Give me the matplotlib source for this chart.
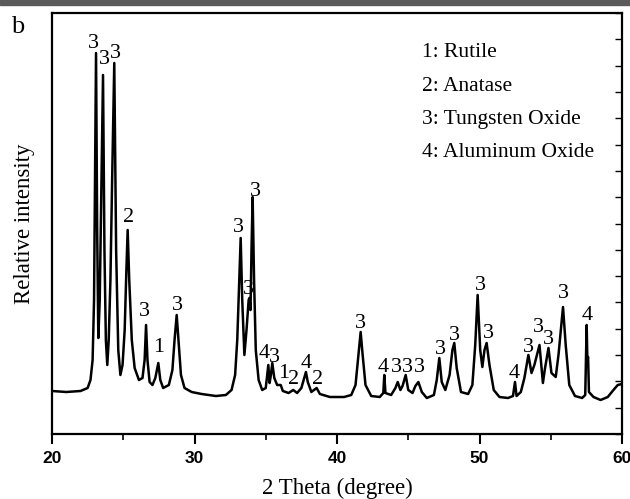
import matplotlib
matplotlib.use('Agg')
import matplotlib.pyplot as plt
from matplotlib.ticker import MultipleLocator
from matplotlib.patches import Rectangle

# traced XRD pattern (2 theta in degree, intensity in arbitrary units)
theta = [20.0, 21.0, 22.0, 22.5, 22.7, 22.85, 22.95, 23.02, 23.09, 23.17,
         23.25, 23.35, 23.45, 23.58, 23.68, 23.78, 23.88, 23.98, 24.1, 24.22,
         24.37, 24.5, 24.65, 24.8, 24.95, 25.1, 25.22, 25.31, 25.42, 25.6,
         25.8, 26.1, 26.35, 26.5, 26.6, 26.7, 26.85, 27.05, 27.25, 27.46,
         27.6, 27.8, 28.2, 28.45, 28.6, 28.75, 28.9, 29.05, 29.3, 29.8,
         30.5, 31.5, 32.2, 32.6, 32.85, 33.0, 33.12, 33.24, 33.35, 33.5,
         33.65, 33.8, 33.85, 33.93, 34.0, 34.08, 34.18, 34.3, 34.5, 34.75,
         35.0, 35.1, 35.18, 35.27, 35.36, 35.46, 35.6, 35.8, 36.05, 36.2,
         36.6, 36.93, 37.2, 37.5, 37.7, 37.82, 37.95, 38.2, 38.57, 38.8,
         39.5, 40.5, 41.0, 41.3, 41.5, 41.66, 41.8, 42.0, 42.4, 43.0,
         43.25, 43.32, 43.4, 43.8, 44.1, 44.26, 44.45, 44.6, 44.82, 45.0,
         45.3, 45.5, 45.71, 45.95, 46.3, 46.8, 47.0, 47.18, 47.35, 47.6,
         47.9, 48.1, 48.23, 48.4, 48.7, 49.2, 49.5, 49.7, 49.87, 50.05,
         50.2, 50.35, 50.5, 50.7, 51.0, 51.4, 52.0, 52.35, 52.49, 52.6,
         52.9, 53.15, 53.43, 53.65, 53.85, 54.21, 54.45, 54.6, 54.84, 55.05,
         55.35, 55.55, 55.72, 55.86, 56.05, 56.3, 56.7, 57.2, 57.42, 57.52,
         57.57, 57.62, 57.68, 58.0, 58.5, 59.0, 59.4, 59.7, 60.0]
intensity = [43, 42, 43, 46, 54, 74, 134, 254, 381, 204,
             96, 134, 234, 359, 184, 94, 69, 94, 154, 254,
             371, 184, 84, 59, 69, 104, 164, 204, 154, 94,
             66, 54, 56, 74, 109, 74, 52, 49, 56, 71,
             54, 46, 49, 64, 94, 119, 89, 59, 46, 42,
             40, 38, 39, 44, 59, 94, 144, 196, 134, 79,
             104, 134, 136, 124, 184, 237, 154, 84, 54, 44,
             46, 59, 69, 51, 59, 71, 56, 49, 49, 43,
             41, 44, 41, 46, 56, 62, 52, 42, 46, 40,
             37, 37, 39, 49, 79, 102, 79, 49, 38, 37,
             41, 59, 41, 39, 46, 52, 44, 48, 59, 44,
             41, 48, 52, 42, 36, 39, 54, 76, 52, 44,
             59, 84, 91, 66, 42, 40, 49, 89, 139, 84,
             67, 84, 91, 69, 44, 37, 36, 38, 52, 38,
             42, 56, 79, 61, 69, 89, 51, 66, 86, 61,
             57, 80, 106, 127, 89, 49, 38, 36, 39, 109,
             74, 77, 42, 37, 34, 37, 44, 49, 50]

# phase labels on the peaks
label_text = ['3', '3', '3', '2', '3', '1', '3', '3', '3', '3', '4',
              '3', '1', '2', '4', '2', '3', '4', '3', '3', '3', '3',
              '3', '3', '3', '4', '3', '3', '3', '3', '4']
label_theta = [22.88, 23.65, 24.42, 25.40, 26.46, 27.51, 28.77, 33.05,
               34.25, 33.75, 34.88, 35.58, 36.28, 36.98, 37.82, 38.67,
               41.61, 43.23, 44.14, 44.91, 45.82, 47.23, 48.21, 50.04,
               50.60, 52.42, 53.40, 54.11, 54.81, 55.86, 57.54]
label_int = [391, 374, 381, 216, 122, 86, 128, 206, 243, 145, 81,
             76, 61, 54, 71, 55, 111, 66, 66, 66, 66, 85, 98, 149,
             101, 61, 87, 107, 95, 140, 118]

phases = ['1: Rutile', '2: Anatase', '3: Tungsten Oxide', '4: Aluminum Oxide']

serif = 'Liberation Serif'

fig = plt.figure(figsize=(6.3, 4.99), dpi=100)
fig.patches.append(Rectangle((0, 0.99), 1, 0.01, transform=fig.transFigure,
                             color='#5a5a5a', zorder=0))
ax = fig.add_axes([52 / 630, 65 / 499, 570 / 630, 421 / 499])

ax.plot(theta, intensity, color='black', lw=1.8)

for t, x, y in zip(label_text, label_theta, label_int):
    ax.text(x, y, t, ha='center', va='center', fontsize=16, family=serif)

for i, p in enumerate(phases):
    ax.text(0.649, 0.905 - i * 0.0784, p, transform=ax.transAxes,
            fontsize=15.5, family=serif, va='center', ha='left')

ax.set_xlim(20, 60)
ax.set_ylim(0, 421)
ax.xaxis.set_major_locator(MultipleLocator(10))
ax.xaxis.set_minor_locator(MultipleLocator(5))
ax.tick_params(axis='x', which='major', direction='out', length=7, width=1.5,
               labelsize=12.5, pad=5)
ax.tick_params(axis='x', which='minor', direction='out', length=4, width=1.2)
for lab in ax.get_xticklabels():
    lab.set_fontweight('bold')
    lab.set_family('Liberation Sans')

ax.yaxis.set_major_locator(MultipleLocator(421 / 16))
ax.tick_params(axis='y', which='both', left=False, right=True, labelleft=False,
               direction='in', length=5, width=1.0)
for s in ax.spines.values():
    s.set_linewidth(1.6)

ax.set_xlabel('2 Theta (degree)', fontsize=16.5, family=serif, labelpad=9)
ax.set_ylabel('Relative intensity', fontsize=16.5, family=serif, labelpad=12)
fig.text(18 / 630, 1 - 27 / 499, 'b', fontsize=19, family=serif,
         ha='center', va='center')

fig.savefig('out.png', dpi=100)
